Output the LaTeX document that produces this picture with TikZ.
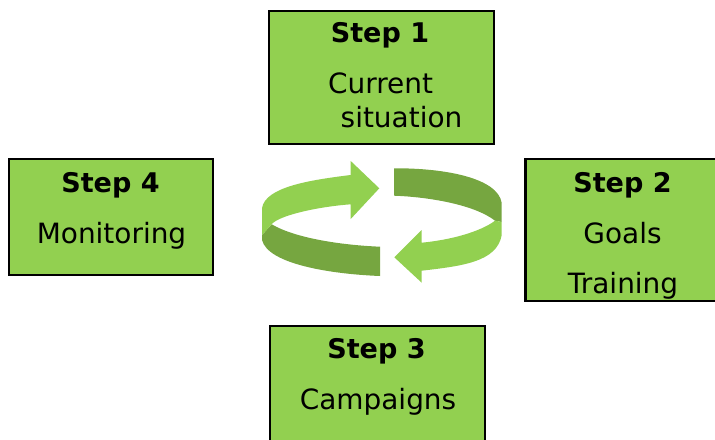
\documentclass[tikz,border=0pt]{standalone}
\usepackage{fontspec}
\setmainfont{DejaVu Sans}
\definecolor{stepgreen}{HTML}{92D050}
\definecolor{darkgreen}{HTML}{76A640}
\tikzset{
    stepbox/.style={draw=black, line width=1.6pt, fill=stepgreen, inner sep=0pt},
    steptitle/.style={anchor=base, inner sep=0pt, font=\fontsize{15.4pt}{18pt}\selectfont\bfseries},
    steptext/.style={anchor=base, inner sep=0pt, font=\fontsize{15.9pt}{18pt}\selectfont}
}
\begin{document}
\begin{tikzpicture}[x=0.02cm, y=-0.02cm]
    \useasboundingbox (0,0) rectangle (715,439);
    % boxes
    \node[stepbox, minimum width=4.5cm, minimum height=2.66cm] (boxa) at (381.5,77.5) {};
    \node[stepbox, minimum width=3.9cm, minimum height=2.84cm] (boxb) at (623,230) {};
    \node[stepbox, minimum width=4.3cm, minimum height=2.5cm] (boxc) at (377.5,388.5) {};
    \node[stepbox, minimum width=4.08cm, minimum height=2.32cm] (boxd) at (111,217) {};
    % labels
    \node[steptitle] (titlea) at (380,43) {Step 1};
    \node[steptext] (currenttext) at (380.5,93.5) {Current};
    \node[steptext] (situationtext) at (401.5,127) {situation};
    \node[steptitle] (titleb) at (622.5,192) {Step 2};
    \node[steptext] (goalstext) at (622.5,243) {Goals};
    \node[steptext] (trainingtext) at (623,293) {Training};
    \node[steptitle] (titlec) at (376.5,358) {Step 3};
    \node[steptext] (campaignstext) at (378,409) {Campaigns};
    \node[steptitle] (titled) at (110.5,192) {Step 4};
    \node[steptext] (monitoringtext) at (111.5,243) {Monitoring};
    % back of the ring
    \fill[darkgreen] (394,168.3) -- (394,195.7) .. controls (430,197) and (475,205) .. (495,220.7)
        -- (501.7,222) -- (501.7,203) .. controls (498,178) and (445,168) .. cycle;
    \fill[darkgreen] (380,246.7) -- (380,276) .. controls (330,274) and (268,264) .. (262,240)
        -- (262,235) -- (271.7,224.3) .. controls (295,238) and (340,245) .. cycle;
    % arrows
    \fill[stepgreen] (379.3,188.3) -- (350.7,161) -- (350.7,175) .. controls (310,180) and (265,187) .. (262,208.3)
        -- (262,235) -- (271.7,224.3)
        .. controls (278,216) and (315,207) .. (350.7,204.3) -- (350.7,219) -- cycle;
    \fill[stepgreen] (394.3,257.3) -- (421.7,230) -- (421.7,242.7) .. controls (450,240) and (480,232) .. (495,220.7)
        -- (501.7,222) -- (501.7,235)
        .. controls (497,262) and (462,266) .. (421.7,270.7) -- (421.7,282.7) -- cycle;
\end{tikzpicture}
\end{document}
